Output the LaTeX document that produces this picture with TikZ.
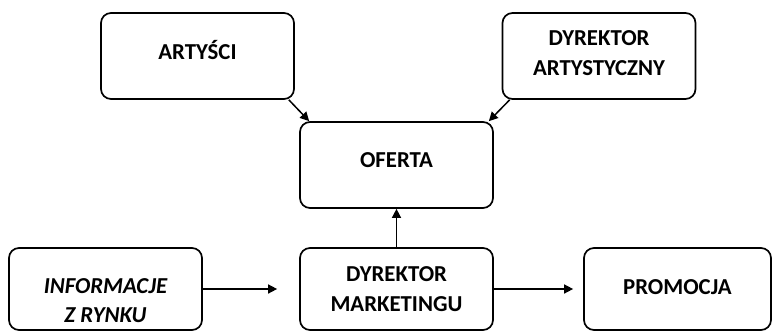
\documentclass[tikz,border=0pt]{standalone}
\usepackage{fontspec}
\setmainfont{Carlito}
\usetikzlibrary{arrows.meta}

\begin{document}
\begin{tikzpicture}[x=0.5pt, y=-0.5pt,
    box/.style={draw, line width=0.85pt, rounded corners=5pt, minimum width=96.5pt, minimum height=43pt, inner sep=0pt},
    lowbox/.style={box, minimum height=41pt},
    txt/.style={font=\bfseries\fontsize{11.4}{15.2}\selectfont, align=center, inner sep=0pt},
    itxt/.style={txt, font=\bfseries\itshape\fontsize{11.4}{14.5}\selectfont},
    arrow/.style={-{Triangle[length=4.5pt, width=4.5pt]}, line width=0.75pt},
    ]
    \useasboundingbox (0,0) rectangle (773,332);

    % Top row
    \node[box, label={[txt, yshift=3pt]center:ARTYŚCI}] (art) at (197.5,56) {};
    \node[box, label={[txt, yshift=1.5pt]center:DYREKTOR\\ARTYSTYCZNY}] (da) at (599,56) {};

    % Middle
    \node[box, label={[txt, yshift=2.5pt]center:OFERTA}] (ofe) at (396.5,165) {};

    % Bottom row
    \node[lowbox, label={[itxt, yshift=-6pt]center:INFORMACJE\\Z RYNKU}] (info) at (105.5,289) {};
    \node[lowbox, label={[txt]center:DYREKTOR\\MARKETINGU}] (dm) at (396.5,289) {};
    \node[lowbox, minimum width=93.5pt, label={[txt, yshift=1pt]center:PROMOCJA}] (prom) at (677.5,289) {};

    % Arrows into OFERTA
    \draw[arrow] ([xshift=-3pt]art.south east) -- ([xshift=5pt]ofe.north west);
    \draw[arrow] ([xshift=4pt]da.south west) -- ([xshift=-2.5pt]ofe.north east);
    \draw[arrow] (dm.north) -- (ofe.south);

    % Arrows along the bottom
    \draw[arrow, shorten >=11pt] (info.east) -- (dm.west);
    \draw[arrow, shorten >=5pt] (dm.east) -- (prom.west);
\end{tikzpicture}
\end{document}
